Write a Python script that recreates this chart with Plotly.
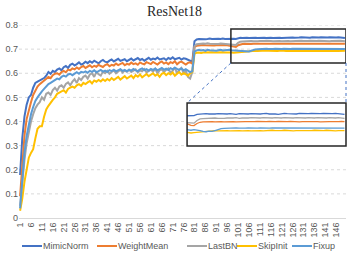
import plotly.graph_objects as go

epochs = list(range(1, 151))
tick_vals = list(range(1, 150, 5))
tick_text = [str(v) for v in tick_vals]
y_ticks = [0, 0.1, 0.2, 0.3, 0.4, 0.5, 0.6, 0.7, 0.8]
y_text = ["0", "0.1", "0.2", "0.3", "0.4", "0.5", "0.6", "0.7", "0.8"]

mimicnorm = [
    0.178, 0.330, 0.420, 0.470, 0.500, 0.510, 0.540, 0.560, 0.565, 0.570,
    0.575, 0.580, 0.590, 0.605, 0.598, 0.610, 0.605, 0.615, 0.620, 0.612,
    0.625, 0.630, 0.622, 0.635, 0.640, 0.632, 0.638, 0.645, 0.636, 0.640,
    0.648, 0.642, 0.650, 0.644, 0.652, 0.646, 0.641, 0.650, 0.655, 0.648,
    0.645, 0.652, 0.657, 0.649, 0.655, 0.660, 0.651, 0.654, 0.658, 0.650,
    0.656, 0.661, 0.653, 0.657, 0.663, 0.655, 0.659, 0.652, 0.660, 0.664,
    0.656, 0.661, 0.658, 0.665, 0.657, 0.660, 0.662, 0.655, 0.663, 0.659,
    0.666, 0.658, 0.661, 0.664, 0.657, 0.662, 0.660, 0.655, 0.652, 0.648,
    0.733, 0.740, 0.742, 0.741, 0.743, 0.741, 0.742, 0.744, 0.742, 0.743,
    0.741, 0.743, 0.742, 0.744, 0.742, 0.743, 0.741, 0.742, 0.743, 0.742,
    0.746, 0.747, 0.746, 0.748, 0.747, 0.746, 0.747, 0.748, 0.747, 0.746,
    0.747, 0.748, 0.747, 0.746, 0.748, 0.747, 0.746, 0.747, 0.748, 0.747,
    0.746, 0.747, 0.748, 0.749, 0.747, 0.748, 0.747, 0.746, 0.748, 0.749,
    0.748, 0.747, 0.748, 0.747, 0.749, 0.748, 0.747, 0.748, 0.749, 0.748,
    0.747, 0.748, 0.749, 0.748, 0.747, 0.748, 0.749, 0.748, 0.747, 0.746,
]

weightmean = [
    0.090, 0.240, 0.340, 0.410, 0.450, 0.480, 0.510, 0.530, 0.545, 0.555,
    0.562, 0.570, 0.575, 0.585, 0.580, 0.592, 0.598, 0.600, 0.594, 0.605,
    0.610, 0.604, 0.615, 0.612, 0.620, 0.616, 0.624, 0.618, 0.626, 0.630,
    0.622, 0.628, 0.633, 0.625, 0.631, 0.627, 0.635, 0.630, 0.626, 0.634,
    0.638, 0.629, 0.635, 0.632, 0.640, 0.634, 0.637, 0.643, 0.633, 0.639,
    0.636, 0.644, 0.638, 0.641, 0.635, 0.645, 0.640, 0.637, 0.646, 0.641,
    0.638, 0.647, 0.642, 0.636, 0.644, 0.649, 0.640, 0.645, 0.638, 0.646,
    0.642, 0.650, 0.637, 0.645, 0.648, 0.640, 0.636, 0.643, 0.645, 0.640,
    0.708, 0.714, 0.716, 0.715, 0.717, 0.716, 0.715, 0.717, 0.716, 0.715,
    0.716, 0.717, 0.715, 0.716, 0.717, 0.716, 0.715, 0.714, 0.710, 0.709,
    0.716, 0.720, 0.721, 0.722, 0.721, 0.722, 0.721, 0.722, 0.722, 0.721,
    0.722, 0.723, 0.722, 0.721, 0.722, 0.723, 0.722, 0.722, 0.721, 0.722,
    0.723, 0.722, 0.721, 0.722, 0.723, 0.722, 0.722, 0.723, 0.722, 0.721,
    0.722, 0.723, 0.722, 0.722, 0.721, 0.722, 0.723, 0.722, 0.722, 0.723,
    0.722, 0.721, 0.722, 0.723, 0.722, 0.722, 0.721, 0.722, 0.723, 0.722,
]

lastbn = [
    0.050, 0.150, 0.240, 0.310, 0.360, 0.400, 0.430, 0.455, 0.470, 0.480,
    0.500, 0.490, 0.515, 0.520, 0.510, 0.530, 0.540, 0.528, 0.545, 0.550,
    0.540, 0.556, 0.562, 0.550, 0.565, 0.575, 0.560, 0.580, 0.572, 0.585,
    0.590, 0.578, 0.595, 0.600, 0.585, 0.605, 0.596, 0.590, 0.607, 0.600,
    0.610, 0.598, 0.605, 0.612, 0.600, 0.608, 0.615, 0.603, 0.611, 0.606,
    0.614, 0.605, 0.610, 0.616, 0.603, 0.612, 0.608, 0.617, 0.604, 0.610,
    0.615, 0.607, 0.618, 0.600, 0.612, 0.616, 0.605, 0.614, 0.620, 0.602,
    0.610, 0.625, 0.598, 0.615, 0.622, 0.600, 0.610, 0.585, 0.578, 0.605,
    0.712, 0.720, 0.722, 0.721, 0.723, 0.722, 0.724, 0.722, 0.721, 0.723,
    0.722, 0.721, 0.723, 0.722, 0.720, 0.721, 0.719, 0.718, 0.716, 0.717,
    0.726, 0.731, 0.732, 0.733, 0.732, 0.733, 0.734, 0.733, 0.732, 0.733,
    0.734, 0.733, 0.734, 0.735, 0.733, 0.734, 0.733, 0.734, 0.735, 0.734,
    0.733, 0.734, 0.735, 0.734, 0.733, 0.734, 0.735, 0.734, 0.734, 0.735,
    0.734, 0.733, 0.734, 0.735, 0.734, 0.733, 0.734, 0.735, 0.734, 0.734,
    0.735, 0.734, 0.733, 0.734, 0.735, 0.734, 0.734, 0.735, 0.734, 0.733,
]

skipinit = [
    0.030, 0.080, 0.150, 0.210, 0.250, 0.270, 0.285, 0.330, 0.370, 0.380,
    0.380, 0.420, 0.450, 0.465, 0.480, 0.490, 0.500, 0.515, 0.520, 0.525,
    0.530, 0.520, 0.535, 0.540, 0.545, 0.540, 0.550, 0.555, 0.548, 0.560,
    0.555, 0.562, 0.568, 0.558, 0.570, 0.565, 0.572, 0.566, 0.575, 0.568,
    0.576, 0.570, 0.580, 0.572, 0.578, 0.585, 0.574, 0.582, 0.588, 0.578,
    0.585, 0.590, 0.580, 0.592, 0.586, 0.595, 0.583, 0.590, 0.597, 0.588,
    0.594, 0.600, 0.590, 0.596, 0.585, 0.598, 0.602, 0.592, 0.600, 0.595,
    0.603, 0.590, 0.598, 0.605, 0.594, 0.600, 0.596, 0.590, 0.600, 0.605,
    0.680, 0.685, 0.686, 0.684, 0.686, 0.687, 0.685, 0.686, 0.687, 0.686,
    0.687, 0.686, 0.688, 0.687, 0.686, 0.687, 0.688, 0.686, 0.685, 0.686,
    0.687, 0.689, 0.690, 0.691, 0.692, 0.692, 0.693, 0.692, 0.693, 0.692,
    0.693, 0.692, 0.693, 0.694, 0.693, 0.692, 0.693, 0.693, 0.692, 0.693,
    0.694, 0.693, 0.692, 0.693, 0.693, 0.694, 0.693, 0.692, 0.693, 0.694,
    0.693, 0.693, 0.692, 0.693, 0.694, 0.693, 0.693, 0.692, 0.693, 0.694,
    0.693, 0.692, 0.693, 0.694, 0.693, 0.693, 0.692, 0.693, 0.694, 0.693,
]

fixup = [
    0.040, 0.170, 0.270, 0.340, 0.390, 0.430, 0.460, 0.485, 0.500, 0.515,
    0.525, 0.535, 0.545, 0.555, 0.560, 0.566, 0.572, 0.578, 0.575, 0.585,
    0.590, 0.586, 0.595, 0.598, 0.592, 0.600, 0.604, 0.598, 0.606, 0.603,
    0.608, 0.602, 0.610, 0.606, 0.612, 0.604, 0.609, 0.614, 0.607, 0.611,
    0.605, 0.613, 0.609, 0.615, 0.608, 0.612, 0.617, 0.610, 0.614, 0.608,
    0.615, 0.611, 0.618, 0.612, 0.609, 0.616, 0.620, 0.613, 0.617, 0.611,
    0.618, 0.614, 0.620, 0.612, 0.617, 0.622, 0.615, 0.619, 0.613, 0.621,
    0.616, 0.623, 0.618, 0.614, 0.620, 0.612, 0.617, 0.610, 0.605, 0.608,
    0.690, 0.695, 0.697, 0.694, 0.696, 0.693, 0.697, 0.695, 0.694, 0.696,
    0.693, 0.695, 0.697, 0.694, 0.696, 0.695, 0.697, 0.695, 0.694, 0.696,
    0.695, 0.693, 0.690, 0.689, 0.691, 0.690, 0.693, 0.697, 0.699, 0.700,
    0.701, 0.700, 0.701, 0.702, 0.701, 0.700, 0.701, 0.702, 0.701, 0.700,
    0.701, 0.702, 0.701, 0.700, 0.701, 0.702, 0.702, 0.701, 0.700, 0.701,
    0.702, 0.701, 0.700, 0.701, 0.702, 0.701, 0.702, 0.701, 0.700, 0.701,
    0.702, 0.701, 0.701, 0.702, 0.701, 0.700, 0.701, 0.702, 0.701, 0.701,
]

series = [
    ("MimicNorm", mimicnorm, "#4472C4"),
    ("WeightMean", weightmean, "#ED7D31"),
    ("LastBN", lastbn, "#A5A5A5"),
    ("SkipInit", skipinit, "#FFC000"),
    ("Fixup", fixup, "#5B9BD5"),
]

W, H = 349, 256
ML, MR, MT, MB = 19, 3, 25, 38
PW, PH = W - ML - MR, H - MT - MB
x_range = [0.5, 150.5]
y_range = [0, 0.8]
zoom_x = [97.7, 150.5]
zoom_y = [0.6425, 0.783]
inset_dom_x = [0.514, 1.0]
inset_dom_y = [0.373, 0.596]

fig = go.Figure()
for name, vals, col in series:
    fig.add_trace(go.Scatter(x=epochs, y=vals, name=name, mode="lines", showlegend=False,
                             line=dict(color=col, width=2), xaxis="x", yaxis="y"))
for name, vals, col in series:
    fig.add_trace(go.Scatter(x=epochs, y=vals, name=name, mode="lines", showlegend=False,
                             line=dict(color=col, width=1.3), xaxis="x2", yaxis="y2"))

tickfont = dict(family="Liberation Sans", size=9, color="#595959")


def paper_x(v):
    return (v - x_range[0]) / (x_range[1] - x_range[0])


def paper_y(v):
    return (v - y_range[0]) / (y_range[1] - y_range[0])


shapes = []
# dotted horizontal gridlines, stopping at the inset where it covers them
for v in y_ticks[1:]:
    py = paper_y(v)
    x_end = inset_dom_x[0] if inset_dom_y[0] - 0.005 <= py <= inset_dom_y[1] else 1
    shapes.append(dict(type="line", xref="paper", yref="y", x0=0, x1=x_end, y0=v, y1=v,
                       line=dict(color="#D9D9D9", width=1, dash="dot"), layer="below"))
# inset frame
shapes.append(dict(type="rect", xref="x2 domain", yref="y2 domain", x0=0, x1=1, y0=0, y1=1,
                   line=dict(color="#262626", width=1.5), layer="above"))
# zoom rectangle on main chart
shapes.append(dict(type="rect", xref="x", yref="y", x0=zoom_x[0], x1=zoom_x[1],
                   y0=zoom_y[0], y1=zoom_y[1], line=dict(color="#262626", width=1.5),
                   layer="above"))
# dotted connectors
shapes.append(dict(type="line", xref="paper", yref="paper", x0=paper_x(zoom_x[0]),
                   y0=paper_y(zoom_y[0]), x1=inset_dom_x[0], y1=inset_dom_y[1],
                   line=dict(color="#4472C4", width=1, dash="dot")))
shapes.append(dict(type="line", xref="paper", yref="paper", x0=paper_x(zoom_x[1]),
                   y0=paper_y(zoom_y[0]), x1=inset_dom_x[1], y1=inset_dom_y[1],
                   line=dict(color="#4472C4", width=1, dash="dot")))

# manual legend along the bottom
legend_x = [22, 97, 187, 237, 292]
legend_y = -(246 - (H - MB)) / PH
annotations = []
for (name, vals, col), lx in zip(series, legend_x):
    x0 = (lx - ML) / PW
    x1 = (lx + 20 - ML) / PW
    shapes.append(dict(type="line", xref="paper", yref="paper", x0=x0, x1=x1,
                       y0=legend_y, y1=legend_y, line=dict(color=col, width=2)))
    annotations.append(dict(text=name, xref="paper", yref="paper", x=x1, y=legend_y,
                            xanchor="left", yanchor="middle", showarrow=False, xshift=-1,
                            font=dict(family="Liberation Sans", size=9, color="#595959")))

fig.update_layout(
    width=W, height=H,
    margin=dict(l=ML, r=MR, t=MT, b=MB, autoexpand=False),
    paper_bgcolor="white", plot_bgcolor="white",
    title=dict(text="ResNet18", x=0.5, xanchor="center", y=1 - 11 / H, yanchor="middle",
               font=dict(family="Liberation Serif", size=14, color="#262626")),
    xaxis=dict(range=x_range, tickvals=tick_vals, ticktext=tick_text, tickangle=-90,
               tickfont=tickfont, showgrid=False, showline=True, linecolor="#D9D9D9",
               linewidth=1, ticks="", zeroline=False, fixedrange=True, automargin=False),
    yaxis=dict(range=y_range, tickvals=y_ticks, ticktext=y_text, tickfont=tickfont,
               showgrid=False, zeroline=False, showline=False, ticks="", fixedrange=True,
               automargin=False),
    xaxis2=dict(domain=inset_dom_x, anchor="y2", range=zoom_x, showgrid=False,
                showticklabels=False, zeroline=False, showline=False, ticks=""),
    yaxis2=dict(domain=inset_dom_y, anchor="x2", range=zoom_y, showgrid=False,
                showticklabels=False, zeroline=False, showline=False, ticks=""),
    shapes=shapes,
    annotations=annotations,
    showlegend=False,
)

fig.write_html("out.html", config={"displayModeBar": False},
               post_script="document.body.style.margin='0';")
